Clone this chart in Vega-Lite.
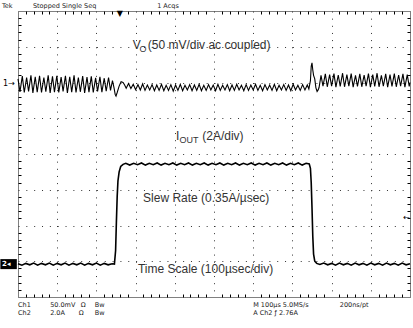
{
  "$schema": "https://vega.github.io/schema/vega-lite/v6.json",
  "width": 392,
  "height": 286,
  "autosize": {"type": "none"},
  "padding": {"left": 18, "top": 11, "right": 3, "bottom": 31},
  "background": "white",
  "view": {"stroke": "black", "strokeDash": [1, 1], "strokeWidth": 1},
  "datasets": {
    "vo": [
      {"t": 0, "v": 6.1}, {"t": 5, "v": 5.74}, {"t": 11, "v": 6.18}, {"t": 16, "v": 5.72}, {"t": 22, "v": 6.14},
      {"t": 27, "v": 5.75}, {"t": 33, "v": 6.2}, {"t": 38, "v": 5.71}, {"t": 44, "v": 6.16}, {"t": 49, "v": 5.73},
      {"t": 55, "v": 6.19}, {"t": 60, "v": 5.72}, {"t": 66, "v": 6.14}, {"t": 71, "v": 5.74}, {"t": 77, "v": 6.2},
      {"t": 82, "v": 5.71}, {"t": 88, "v": 6.17}, {"t": 93, "v": 5.73}, {"t": 99, "v": 6.19}, {"t": 104, "v": 5.72},
      {"t": 110, "v": 6.15}, {"t": 115, "v": 5.75}, {"t": 121, "v": 6.19}, {"t": 126, "v": 5.71}, {"t": 132, "v": 6.16},
      {"t": 137, "v": 5.73}, {"t": 143, "v": 6.2}, {"t": 148, "v": 5.72}, {"t": 154, "v": 6.14}, {"t": 159, "v": 5.74},
      {"t": 165, "v": 6.18}, {"t": 170, "v": 5.71}, {"t": 176, "v": 6.15}, {"t": 181, "v": 5.73}, {"t": 187, "v": 6.17},
      {"t": 192, "v": 5.72}, {"t": 198, "v": 6.13}, {"t": 203, "v": 5.75}, {"t": 209, "v": 6.16}, {"t": 214, "v": 5.73},
      {"t": 220, "v": 6.12}, {"t": 225, "v": 5.76}, {"t": 231, "v": 6.14}, {"t": 236, "v": 5.78}, {"t": 241, "v": 6.05},
      {"t": 245, "v": 5.85}, {"t": 248, "v": 5.66}, {"t": 250, "v": 5.62}, {"t": 253, "v": 5.72}, {"t": 258, "v": 5.9},
      {"t": 263, "v": 6.02}, {"t": 268, "v": 6.0}, {"t": 272, "v": 5.93}, {"t": 276, "v": 5.84}, {"t": 282, "v": 5.97},
      {"t": 288, "v": 5.83}, {"t": 294, "v": 5.95}, {"t": 300, "v": 5.8}, {"t": 306, "v": 5.94}, {"t": 312, "v": 5.79},
      {"t": 318, "v": 5.96}, {"t": 324, "v": 5.78}, {"t": 330, "v": 5.93}, {"t": 336, "v": 5.79}, {"t": 342, "v": 5.94},
      {"t": 348, "v": 5.77}, {"t": 354, "v": 5.93}, {"t": 360, "v": 5.78}, {"t": 366, "v": 5.95}, {"t": 372, "v": 5.77},
      {"t": 378, "v": 5.92}, {"t": 384, "v": 5.78}, {"t": 390, "v": 5.94}, {"t": 396, "v": 5.76}, {"t": 402, "v": 5.93},
      {"t": 408, "v": 5.78}, {"t": 414, "v": 5.95}, {"t": 420, "v": 5.77}, {"t": 426, "v": 5.92}, {"t": 432, "v": 5.79},
      {"t": 438, "v": 5.94}, {"t": 444, "v": 5.77}, {"t": 450, "v": 5.93}, {"t": 456, "v": 5.78}, {"t": 462, "v": 5.95},
      {"t": 468, "v": 5.77}, {"t": 474, "v": 5.92}, {"t": 480, "v": 5.78}, {"t": 486, "v": 5.94}, {"t": 492, "v": 5.79},
      {"t": 498, "v": 5.93}, {"t": 504, "v": 5.77}, {"t": 510, "v": 5.95}, {"t": 516, "v": 5.78}, {"t": 522, "v": 5.92},
      {"t": 528, "v": 5.79}, {"t": 534, "v": 5.94}, {"t": 540, "v": 5.77}, {"t": 546, "v": 5.93}, {"t": 552, "v": 5.78},
      {"t": 558, "v": 5.95}, {"t": 564, "v": 5.79}, {"t": 570, "v": 5.92}, {"t": 576, "v": 5.77}, {"t": 582, "v": 5.94},
      {"t": 588, "v": 5.78}, {"t": 594, "v": 5.93}, {"t": 600, "v": 5.79}, {"t": 606, "v": 5.95}, {"t": 612, "v": 5.78},
      {"t": 618, "v": 5.92}, {"t": 624, "v": 5.77}, {"t": 630, "v": 5.94}, {"t": 636, "v": 5.79}, {"t": 642, "v": 5.93},
      {"t": 648, "v": 5.78}, {"t": 654, "v": 5.95}, {"t": 660, "v": 5.77}, {"t": 666, "v": 5.92}, {"t": 672, "v": 5.79},
      {"t": 678, "v": 5.94}, {"t": 684, "v": 5.78}, {"t": 690, "v": 5.93}, {"t": 696, "v": 5.77}, {"t": 702, "v": 5.95},
      {"t": 708, "v": 5.79}, {"t": 714, "v": 5.92}, {"t": 720, "v": 5.78}, {"t": 726, "v": 5.94}, {"t": 732, "v": 5.79},
      {"t": 738, "v": 5.93}, {"t": 742, "v": 5.82}, {"t": 746, "v": 6.05}, {"t": 748, "v": 6.45}, {"t": 750, "v": 6.55},
      {"t": 752, "v": 6.35}, {"t": 754, "v": 6.2}, {"t": 757, "v": 6.1}, {"t": 760, "v": 5.85}, {"t": 763, "v": 5.75},
      {"t": 766, "v": 5.8}, {"t": 768, "v": 5.86}, {"t": 773, "v": 6.2}, {"t": 778, "v": 5.9}, {"t": 784, "v": 6.24},
      {"t": 789, "v": 5.88}, {"t": 795, "v": 6.22}, {"t": 800, "v": 5.9}, {"t": 806, "v": 6.25}, {"t": 811, "v": 5.87},
      {"t": 817, "v": 6.21}, {"t": 822, "v": 5.89}, {"t": 828, "v": 6.26}, {"t": 833, "v": 5.88}, {"t": 839, "v": 6.22},
      {"t": 844, "v": 5.9}, {"t": 850, "v": 6.25}, {"t": 855, "v": 5.87}, {"t": 861, "v": 6.2}, {"t": 866, "v": 5.89},
      {"t": 872, "v": 6.24}, {"t": 877, "v": 5.88}, {"t": 883, "v": 6.21}, {"t": 888, "v": 5.9}, {"t": 894, "v": 6.25},
      {"t": 899, "v": 5.87}, {"t": 905, "v": 6.22}, {"t": 910, "v": 5.89}, {"t": 916, "v": 6.26}, {"t": 921, "v": 5.88},
      {"t": 927, "v": 6.2}, {"t": 932, "v": 5.9}, {"t": 938, "v": 6.24}, {"t": 943, "v": 5.87}, {"t": 949, "v": 6.22},
      {"t": 954, "v": 5.89}, {"t": 960, "v": 6.25}, {"t": 965, "v": 5.88}, {"t": 971, "v": 6.21}, {"t": 976, "v": 5.9},
      {"t": 982, "v": 6.24}, {"t": 987, "v": 5.87}, {"t": 993, "v": 6.22}, {"t": 998, "v": 5.89}, {"t": 1000, "v": 6.0}
    ],
    "iout": [
      {"t": 0, "v": 0.93}, {"t": 10, "v": 0.89}, {"t": 20, "v": 0.94}, {"t": 30, "v": 0.9}, {"t": 40, "v": 0.95},
      {"t": 50, "v": 0.89}, {"t": 60, "v": 0.94}, {"t": 70, "v": 0.9}, {"t": 80, "v": 0.95}, {"t": 90, "v": 0.89},
      {"t": 100, "v": 0.94}, {"t": 110, "v": 0.9}, {"t": 120, "v": 0.95}, {"t": 130, "v": 0.89}, {"t": 140, "v": 0.94},
      {"t": 150, "v": 0.9}, {"t": 160, "v": 0.95}, {"t": 170, "v": 0.89}, {"t": 180, "v": 0.94}, {"t": 190, "v": 0.9},
      {"t": 200, "v": 0.95}, {"t": 210, "v": 0.89}, {"t": 220, "v": 0.94}, {"t": 230, "v": 0.9}, {"t": 240, "v": 0.93},
      {"t": 246, "v": 0.92}, {"t": 249, "v": 1.3}, {"t": 251, "v": 2.1}, {"t": 253, "v": 2.8}, {"t": 255, "v": 3.25},
      {"t": 258, "v": 3.5}, {"t": 262, "v": 3.65}, {"t": 268, "v": 3.71}, {"t": 275, "v": 3.74}, {"t": 285, "v": 3.69},
      {"t": 295, "v": 3.74}, {"t": 305, "v": 3.7}, {"t": 315, "v": 3.75}, {"t": 325, "v": 3.69}, {"t": 335, "v": 3.74},
      {"t": 345, "v": 3.7}, {"t": 355, "v": 3.75}, {"t": 365, "v": 3.69}, {"t": 375, "v": 3.74}, {"t": 385, "v": 3.7},
      {"t": 395, "v": 3.75}, {"t": 405, "v": 3.69}, {"t": 415, "v": 3.74}, {"t": 425, "v": 3.7}, {"t": 435, "v": 3.75},
      {"t": 445, "v": 3.69}, {"t": 455, "v": 3.74}, {"t": 465, "v": 3.7}, {"t": 475, "v": 3.75}, {"t": 485, "v": 3.69},
      {"t": 495, "v": 3.74}, {"t": 505, "v": 3.7}, {"t": 515, "v": 3.75}, {"t": 525, "v": 3.69}, {"t": 535, "v": 3.74},
      {"t": 545, "v": 3.7}, {"t": 555, "v": 3.75}, {"t": 565, "v": 3.69}, {"t": 575, "v": 3.74}, {"t": 585, "v": 3.7},
      {"t": 595, "v": 3.75}, {"t": 605, "v": 3.69}, {"t": 615, "v": 3.74}, {"t": 625, "v": 3.7}, {"t": 635, "v": 3.75},
      {"t": 645, "v": 3.69}, {"t": 655, "v": 3.74}, {"t": 665, "v": 3.7}, {"t": 675, "v": 3.75}, {"t": 685, "v": 3.69},
      {"t": 695, "v": 3.74}, {"t": 705, "v": 3.7}, {"t": 715, "v": 3.75}, {"t": 725, "v": 3.69}, {"t": 735, "v": 3.74},
      {"t": 743, "v": 3.72}, {"t": 746, "v": 3.6}, {"t": 748, "v": 3.2}, {"t": 750, "v": 2.5}, {"t": 752, "v": 1.7},
      {"t": 754, "v": 1.2}, {"t": 757, "v": 1.0}, {"t": 762, "v": 0.94}, {"t": 770, "v": 0.91}, {"t": 780, "v": 0.95},
      {"t": 790, "v": 0.9}, {"t": 800, "v": 0.94}, {"t": 810, "v": 0.89}, {"t": 820, "v": 0.95}, {"t": 830, "v": 0.9},
      {"t": 840, "v": 0.94}, {"t": 850, "v": 0.89}, {"t": 860, "v": 0.95}, {"t": 870, "v": 0.9}, {"t": 880, "v": 0.94},
      {"t": 890, "v": 0.89}, {"t": 900, "v": 0.95}, {"t": 910, "v": 0.9}, {"t": 920, "v": 0.94}, {"t": 930, "v": 0.89},
      {"t": 940, "v": 0.95}, {"t": 950, "v": 0.9}, {"t": 960, "v": 0.94}, {"t": 970, "v": 0.89}, {"t": 980, "v": 0.95},
      {"t": 990, "v": 0.9}, {"t": 1000, "v": 0.93}
    ],
    "notes": [
      {"t": 293, "v": 6.94, "label": "V"},
      {"t": 331, "v": 6.94, "label": "(50 mV/div ac coupled)"},
      {"t": 403, "v": 4.39, "label": "I"},
      {"t": 470, "v": 4.39, "label": "(2A/div)"},
      {"t": 319, "v": 2.66, "label": "Slew Rate (0.35A/µsec)"},
      {"t": 306, "v": 0.67, "label": "Time Scale (100µsec/div)"}
    ],
    "subs": [
      {"t": 310, "v": 6.86, "label": "O"},
      {"t": 412, "v": 4.31, "label": "OUT"}
    ],
    "scope": [
      {"t": -41, "v": 8.08, "label": "Tek"},
      {"t": 38, "v": 8.08, "label": "Stopped Single Seq"},
      {"t": 355, "v": 8.08, "label": "1 Acqs"},
      {"t": 0, "v": -0.29, "label": "Ch1"},
      {"t": 82, "v": -0.29, "label": "50.0mV"},
      {"t": 160, "v": -0.29, "label": "Ω"},
      {"t": 196, "v": -0.29, "label": "Bw"},
      {"t": 600, "v": -0.29, "label": "M 100µs 5.0MS/s"},
      {"t": 821, "v": -0.29, "label": "200ns/pt"},
      {"t": 0, "v": -0.51, "label": "Ch2"},
      {"t": 82, "v": -0.51, "label": "2.0A"},
      {"t": 155, "v": -0.51, "label": "Ω"},
      {"t": 196, "v": -0.51, "label": "Bw"},
      {"t": 600, "v": -0.51, "label": "A  Ch2  ƒ  2.76A"}
    ],
    "symbols": [
      {"t": -38, "v": 5.96, "label": "1→"},
      {"t": 252, "v": 7.93, "label": "▼"},
      {"t": 983, "v": 2.21, "label": "←"}
    ],
    "box": [
      {"t0": -45, "t1": -3, "v0": 0.78, "v1": 1.06}
    ],
    "boxlabel": [
      {"t": -30, "v": 0.92, "label": "2◂"}
    ]
  },
  "layer": [
    {
      "data": {"name": "vo"},
      "mark": {"type": "line", "color": "black", "strokeWidth": 1.1},
      "encoding": {
        "x": {"field": "t", "type": "quantitative", "scale": {"domain": [0, 1000], "nice": false, "zero": false},
          "axis": {"orient": "bottom", "grid": true, "gridColor": "#333333", "gridOpacity": 1, "gridDash": [1, 6.15], "gridCap": "butt", "gridWidth": 1,
            "values": [100, 200, 300, 400, 500, 600, 700, 800, 900], "labels": false, "ticks": false, "domain": false, "title": null}},
        "y": {"field": "v", "type": "quantitative", "scale": {"domain": [0, 8], "nice": false, "zero": false},
          "axis": {"orient": "left", "grid": true, "gridColor": "#333333", "gridOpacity": 1, "gridDash": [1, 6.84], "gridCap": "butt", "gridWidth": 1,
            "values": [1, 2, 3, 4, 5, 6, 7], "labels": false, "ticks": false, "domain": false, "title": null}}
      }
    },
    {
      "data": {"name": "iout"},
      "mark": {"type": "line", "color": "black", "strokeWidth": 1.6},
      "encoding": {
        "x": {"field": "t", "type": "quantitative",
          "axis": {"orient": "bottom", "offset": -3, "tickSize": 3, "tickColor": "black", "tickWidth": 1, "grid": false, "labels": false, "domain": false, "title": null,
            "values": [20, 40, 60, 80, 120, 140, 160, 180, 220, 240, 260, 280, 320, 340, 360, 380, 420, 440, 460, 480, 520, 540, 560, 580, 620, 640, 660, 680, 720, 740, 760, 780, 820, 840, 860, 880, 920, 940, 960, 980]}},
        "y": {"field": "v", "type": "quantitative",
          "axis": {"orient": "left", "offset": -3, "tickSize": 3, "tickColor": "black", "tickWidth": 1, "grid": false, "labels": false, "domain": false, "title": null,
            "values": [0.2, 0.4, 0.6, 0.8, 1.2, 1.4, 1.6, 1.8, 2.2, 2.4, 2.6, 2.8, 3.2, 3.4, 3.6, 3.8, 4.2, 4.4, 4.6, 4.8, 5.2, 5.4, 5.6, 5.8, 6.2, 6.4, 6.6, 6.8, 7.2, 7.4, 7.6, 7.8]}}
      }
    },
    {
      "data": {"name": "notes"},
      "mark": {"type": "text", "align": "left", "baseline": "alphabetic", "font": "Liberation Sans", "fontSize": 12, "color": "#333333"},
      "encoding": {
        "x": {"field": "t", "type": "quantitative",
          "axis": {"orient": "top", "offset": -3, "tickSize": 3, "tickColor": "black", "tickWidth": 1, "grid": false, "labels": false, "domain": false, "title": null,
            "values": [20, 40, 60, 80, 120, 140, 160, 180, 220, 240, 260, 280, 320, 340, 360, 380, 420, 440, 460, 480, 520, 540, 560, 580, 620, 640, 660, 680, 720, 740, 760, 780, 820, 840, 860, 880, 920, 940, 960, 980]}},
        "y": {"field": "v", "type": "quantitative",
          "axis": {"orient": "right", "offset": -3, "tickSize": 3, "tickColor": "black", "tickWidth": 1, "grid": false, "labels": false, "domain": false, "title": null,
            "values": [0.2, 0.4, 0.6, 0.8, 1.2, 1.4, 1.6, 1.8, 2.2, 2.4, 2.6, 2.8, 3.2, 3.4, 3.6, 3.8, 4.2, 4.4, 4.6, 4.8, 5.2, 5.4, 5.6, 5.8, 6.2, 6.4, 6.6, 6.8, 7.2, 7.4, 7.6, 7.8]}},
        "text": {"field": "label"}
      }
    },
    {
      "data": {"name": "subs"},
      "mark": {"type": "text", "align": "left", "baseline": "alphabetic", "font": "Liberation Sans", "fontSize": 9, "color": "#333333"},
      "encoding": {
        "x": {"field": "t", "type": "quantitative", "axis": null},
        "y": {"field": "v", "type": "quantitative", "axis": null},
        "text": {"field": "label"}
      }
    },
    {
      "data": {"name": "scope"},
      "mark": {"type": "text", "align": "left", "baseline": "alphabetic", "font": "DejaVu Sans", "fontSize": 6.5, "color": "#222222"},
      "encoding": {
        "x": {"field": "t", "type": "quantitative", "axis": null},
        "y": {"field": "v", "type": "quantitative", "axis": null},
        "text": {"field": "label"}
      }
    },
    {
      "data": {"name": "symbols"},
      "mark": {"type": "text", "align": "left", "baseline": "middle", "font": "DejaVu Sans", "fontSize": 8, "color": "black"},
      "encoding": {
        "x": {"field": "t", "type": "quantitative", "axis": null},
        "y": {"field": "v", "type": "quantitative", "axis": null},
        "text": {"field": "label"}
      }
    },
    {
      "data": {"name": "box"},
      "mark": {"type": "rect", "color": "black"},
      "encoding": {
        "x": {"field": "t0", "type": "quantitative", "axis": null},
        "x2": {"field": "t1"},
        "y": {"field": "v0", "type": "quantitative", "axis": null},
        "y2": {"field": "v1"}
      }
    },
    {
      "data": {"name": "boxlabel"},
      "mark": {"type": "text", "align": "center", "baseline": "middle", "font": "DejaVu Sans", "fontSize": 7, "fontWeight": "bold", "color": "white"},
      "encoding": {
        "x": {"field": "t", "type": "quantitative", "axis": null},
        "y": {"field": "v", "type": "quantitative", "axis": null},
        "text": {"field": "label"}
      }
    }
  ],
  "resolve": {"axis": {"x": "independent", "y": "independent"}}
}
